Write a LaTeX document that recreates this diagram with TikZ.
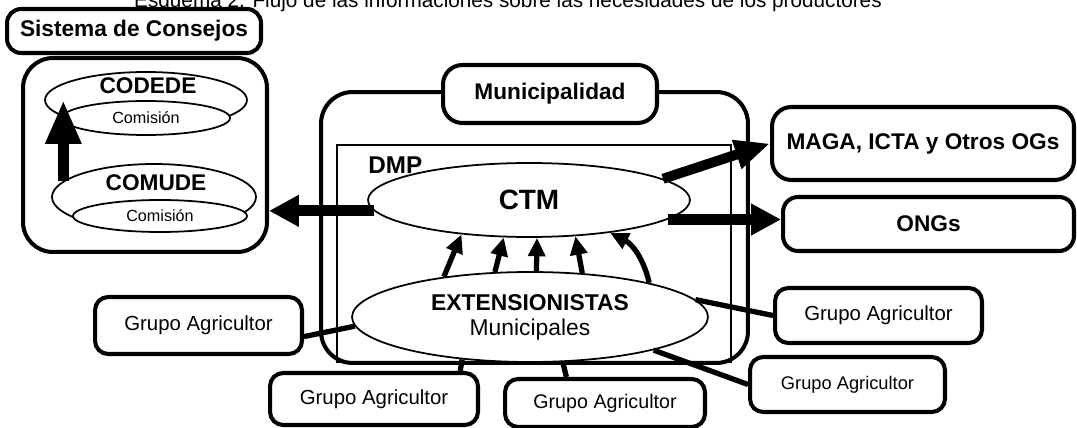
\documentclass[tikz,border=0pt]{standalone}
\usepackage{fontspec}
\setmainfont{Liberation Sans}
\usetikzlibrary{arrows.meta,shapes.geometric}

\begin{document}
\begin{tikzpicture}[x=0.02cm,y=-0.02cm,
	box/.style={draw,line width=2.3pt,rounded corners=8pt,fill=white,inner sep=0pt},
	ring/.style={draw,ellipse,line width=1pt,fill=white,inner sep=0pt},
	negrita/.style={font=\fontsize{12.9}{15}\selectfont\bfseries},
	grupo/.style={box,rounded corners=7.5pt,minimum width=4.14cm,minimum height=1.1cm,font=\fontsize{11.6}{14}\selectfont},
	link/.style={line width=3pt},
	flecha/.style={line width=6.4pt,-{Triangle[length=17pt,width=17pt]}},
	flechita/.style={line width=3pt,-{Triangle[length=10.5pt,width=9.5pt]}}]
	\useasboundingbox (0,0) rectangle (1077,428);
	\node[font=\fontsize{11.8}{14}\selectfont,anchor=base] (titulo) at (508,8) {Esquema 2. Flujo de las informaciones sobre las necesidades de los productores};
	\node[box,rounded corners=17pt,minimum width=4.88cm,minimum height=3.88cm] (sistema) at (145,155) {};
	\node[box,negrita,minimum width=5.08cm,minimum height=0.88cm] (consejos) at (134,31) {Sistema de Consejos};
	\node[ring,minimum width=4.04cm,minimum height=1.12cm] (codede) at (146,100) {};
	\node[ring,minimum width=3.36cm,minimum height=0.68cm,font=\fontsize{9.2}{11}\selectfont] (comcodede) at (146,118) {Comisión};
	\node[negrita] (codedetxt) at (148,86) {CODEDE};
	\node[ring,minimum width=4.08cm,minimum height=1.32cm] (comude) at (154,197) {};
	\node[ring,minimum width=3.48cm,minimum height=0.64cm,font=\fontsize{9.2}{11}\selectfont] (comcomude) at (160,216) {Comisión};
	\node[negrita] (comudetxt) at (156,183) {COMUDE};
	\draw[line width=6.2pt,-{Triangle[length=25pt,width=19pt]}] (comude.170) -- (comude.170 |- codede.west);
	\node[box,rounded corners=18pt,minimum width=8.54cm,minimum height=5.42cm] (muni) at (534.5,227.5) {};
	\node[draw,line width=1.5pt,minimum width=7.88cm,minimum height=4.34cm] (dmp) at (534,253.5) {};
	\node[box,negrita,rounded corners=11pt,minimum width=4.28cm,minimum height=1.16cm] (munilbl) at (550,94) {Municipalidad};
	\node[font=\fontsize{13.8}{16}\selectfont\bfseries,anchor=base west,inner sep=0pt] (dmptxt) at (368,174) {DMP};
	\node[ring,minimum width=6.44cm,minimum height=1.48cm,font=\fontsize{15.9}{18}\selectfont\bfseries] (ctm) at (529,200) {CTM};
	\node[ring,minimum width=7.12cm,minimum height=1.8cm,align=center,font=\fontsize{13}{14.2}\selectfont] (ext) at (530,317) {\textbf{EXTENSIONISTAS}\\Municipales};
	\node[box,negrita,rounded corners=11pt,minimum width=6.04cm,minimum height=1.46cm] (maga) at (923,143.5) {MAGA, ICTA y Otros OGs};
	\node[box,negrita,rounded corners=8.5pt,minimum width=5.82cm,minimum height=1.08cm] (ongs) at (928.5,224) {ONGs};
	\node[grupo,minimum height=1.14cm] (ga1) at (198.5,325.5) {Grupo Agricultor};
	\node[grupo,minimum width=4.16cm,minimum height=1.04cm] (ga2) at (374,399) {Grupo Agricultor};
	\node[grupo,minimum width=4cm,minimum height=0.96cm,font=\fontsize{11.2}{13}\selectfont] (ga3) at (605,403) {Grupo Agricultor};
	\node[grupo,minimum width=3.9cm,font=\fontsize{10.4}{12}\selectfont] (ga4) at (847.5,384.5) {Grupo Agricultor};
	\node[grupo] (ga5) at (878.5,315.5) {Grupo Agricultor};
	\draw[link] (ga1.-6) -- (ext.183);
	\draw[link] (ga2.18) -- (ext.212);
	\draw[link] (ga3.146) -- (ext.-54);
	\draw[link] (ext.-15) -- (ga4.west);
	\draw[link] (ext.6) -- (ga5.west);
	\draw[flechita] (ext.155) -- (ctm.207);
	\draw[flechita] (ext.128) -- (ctm.236);
	\draw[flechita] (ext.82) -- (ctm.-78);
	\draw[flechita] (ext.40) -- (ctm.-38);
	\draw[flechita] (ext.16) to[bend right=25] (ctm.-22);
	\draw[flecha] (ctm.184) -- (ctm.184 -| sistema.east);
	\draw[flecha,line width=5.7pt,-{Triangle[length=20pt,width=16pt]}] (ctm.9) -- (maga.west);
	\draw[flecha] (ctm.-8) -- (ctm.-8 -| ongs.west);
\end{tikzpicture}
\end{document}
